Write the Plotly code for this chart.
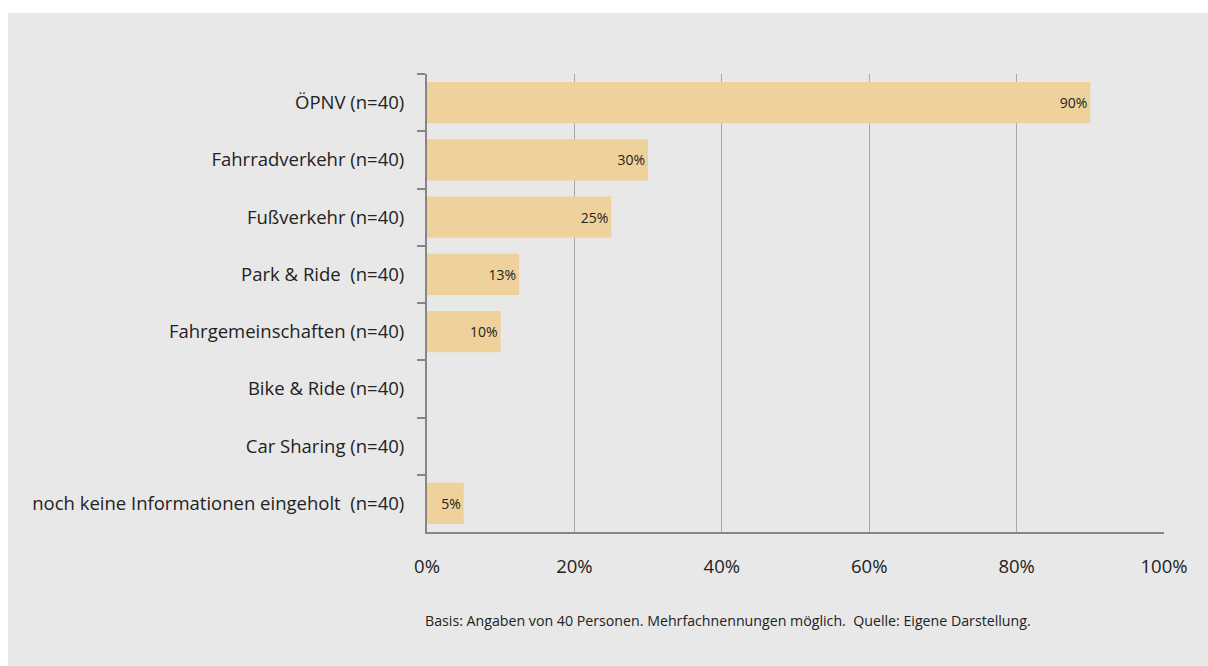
import plotly.graph_objects as go

categories = [
    "ÖPNV (n=40)",
    "Fahrradverkehr (n=40)",
    "Fußverkehr (n=40)",
    "Park & Ride  (n=40)",
    "Fahrgemeinschaften (n=40)",
    "Bike & Ride (n=40)",
    "Car Sharing (n=40)",
    "noch keine Informationen eingeholt  (n=40)",
]
values = [0.90, 0.30, 0.25, 0.125, 0.10, 0.0, 0.0, 0.05]
value_labels = ["90%", "30%", "25%", "13%", "10%", "", "", "5%"]
x_ticks = [0, 0.2, 0.4, 0.6, 0.8, 1.0]
x_tick_labels = ["0%", "20%", "40%", "60%", "80%", "100%"]
footnote = "Basis: Angaben von 40 Personen. Mehrfachnennungen möglich.  Quelle: Eigene Darstellung."

# body margin is removed by post_script, so the figure fills the window
W, H = 1208, 666
L, R, T, B = 427, 44, 74, 134
pw, ph = W - L - R, H - T - B

def px_x(p):
    return (p - L) / pw

def px_y(p):
    return 1 - (p - T) / ph

FONT = "Open Sans"
GRAY = "#E8E8E8"

fig = go.Figure()
fig.add_trace(go.Bar(
    y=categories, x=values, orientation="h",
    marker=dict(color="#EFD29B", line=dict(width=0)),
    text=value_labels, textposition="inside", insidetextanchor="end",
    textfont=dict(family=FONT, size=14, color="#222222"),
    cliponaxis=False, hoverinfo="skip",
))

fig.update_layout(
    width=W, height=H,
    margin=dict(l=L, r=R, t=T, b=B, pad=0),
    paper_bgcolor=GRAY, plot_bgcolor=GRAY,
    showlegend=False, bargap=0.28,
    font=dict(family=FONT, color="#222222"),
    uniformtext=dict(minsize=14, mode="show"),
    xaxis=dict(
        range=[0, 1], tickvals=x_ticks, ticktext=x_tick_labels,
        showgrid=True, gridcolor="#A8A8A8", gridwidth=1,
        showline=True, linecolor="#868686", linewidth=2,
        ticks="", ticklabelstandoff=17,
        tickfont=dict(family=FONT, size=18.5, color="#222222"),
        zeroline=False, fixedrange=True,
    ),
    yaxis=dict(
        autorange="reversed", type="category",
        showline=True, linecolor="#868686", linewidth=2,
        ticks="outside", tickson="boundaries", ticklen=8, tickcolor="#868686", tickwidth=2,
        ticklabelstandoff=17,
        tickfont=dict(family=FONT, size=18.5, color="#222222"),
        showgrid=False, fixedrange=True,
    ),
    shapes=[
        dict(type="rect", xref="paper", yref="paper",
             x0=px_x(-10), x1=px_x(W + 10), y0=px_y(13), y1=px_y(-10),
             fillcolor="white", line=dict(width=0), layer="above"),
        dict(type="rect", xref="paper", yref="paper",
             x0=px_x(-10), x1=px_x(8), y0=px_y(H + 10), y1=px_y(-10),
             fillcolor="white", line=dict(width=0), layer="above"),
    ],
    annotations=[
        dict(text=footnote, xref="paper", yref="paper",
             x=px_x(423), y=px_y(620), xanchor="left", yanchor="middle",
             showarrow=False, font=dict(family=FONT, size=14.2, color="#222222")),
    ],
)

fig.write_html(
    "out.html",
    config={"displayModeBar": False, "staticPlot": True},
    post_script=(
        "document.documentElement.style.overflow='hidden';"
        "document.body.style.margin='0';"
        "document.body.style.overflow='hidden';"
    ),
)
